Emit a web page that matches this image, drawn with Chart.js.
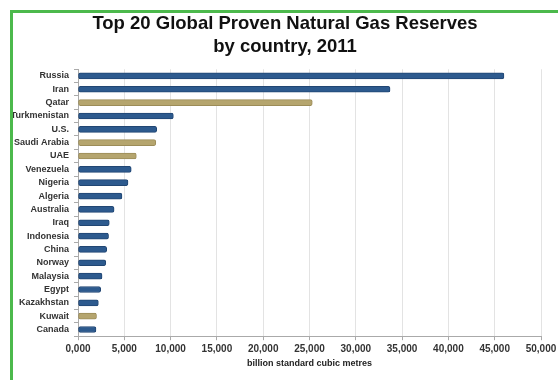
<!DOCTYPE html>
<html>
<head>
<meta charset="utf-8">
<script src="https://cdn.jsdelivr.net/npm/chart.js@4/dist/chart.umd.min.js"></script>
<style>
  html, body { margin: 0; padding: 0; background: #fff; }
  #wrap { position: relative; width: 558px; height: 380px; overflow: hidden; }
  #frame {
    position: absolute; left: 10px; top: 10px; right: 0; bottom: 0; z-index: 2;
    border-left: 3px solid #4cb94c; border-top: 3px solid #4cb94c;
    pointer-events: none;
  }
  canvas { position: absolute; left: 0; top: 0; z-index: 1; }
</style>
</head>
<body>
<div id="wrap">
  <div id="frame"></div>
  <canvas id="gasChart" width="570" height="380"></canvas>
</div>
<script>
// proven natural gas reserves, billion standard cubic metres
const countries = ['Russia', 'Iran', 'Qatar', 'Turkmenistan', 'U.S.', 'Saudi Arabia', 'UAE',
  'Venezuela', 'Nigeria', 'Algeria', 'Australia', 'Iraq', 'Indonesia', 'China', 'Norway',
  'Malaysia', 'Egypt', 'Kazakhstan', 'Kuwait', 'Canada'];
const reserves = [46000, 33700, 25300, 10300, 8500, 8400, 6300,
  5750, 5400, 4750, 3900, 3380, 3300, 3100, 3000,
  2600, 2450, 2200, 2000, 1940];
// Gulf states drawn in gold
const gulf = ['Qatar', 'Saudi Arabia', 'UAE', 'Kuwait'];
const xTicks = [0, 5000, 10000, 15000, 20000, 25000, 30000, 35000, 40000, 45000, 50000];

const blue = '#2d5a8e';
const gold = '#b5a56e';

new Chart(document.getElementById('gasChart').getContext('2d'), {
  type: 'bar',
  data: {
    labels: countries,
    datasets: [{
      data: reserves,
      backgroundColor: countries.map(c => gulf.includes(c) ? gold : blue),
      borderColor: countries.map(c => gulf.includes(c) ? '#9c8c58' : '#214673'),
      borderWidth: 1,
      borderSkipped: false,
      borderRadius: 2,
      barThickness: 6
    }]
  },
  options: {
    indexAxis: 'y',
    responsive: false,
    animation: false,
    layout: { padding: { left: 0, right: 0, top: 0, bottom: 11 } },
    plugins: {
      legend: { display: false },
      tooltip: { enabled: false },
      title: {
        display: true,
        text: ['Top 20 Global Proven Natural Gas Reserves', 'by country, 2011'],
        color: '#111',
        font: { family: 'Arial, "Liberation Sans"', size: 18.5, weight: 'bold', lineHeight: 1.25 },
        padding: { top: 12, bottom: 11 }
      }
    },
    scales: {
      x: {
        min: 0,
        max: 50000,
        afterBuildTicks: axis => { axis.ticks = xTicks.map(v => ({ value: v })); },
        grid: { color: '#e3e3e3', tickLength: 4, tickColor: '#aaa' },
        border: { color: '#aaa' },
        ticks: {
          color: '#333',
          font: { family: 'Arial, "Liberation Sans"', size: 10, weight: 'bold' },
          padding: 3,
          maxRotation: 0,
          callback: v => v === 0 ? '0,000' : v.toLocaleString('en-US')
        },
        title: {
          display: true,
          text: 'billion standard cubic metres',
          color: '#222',
          font: { family: 'Arial, "Liberation Sans"', size: 9, weight: 'bold' },
          padding: { top: 0, bottom: 0 }
        }
      },
      y: {
        afterFit: scale => { scale.width = 78; },
        grid: { drawOnChartArea: false, tickLength: 4, tickColor: '#aaa' },
        border: { color: '#aaa' },
        ticks: {
          color: '#333',
          font: { family: 'Arial, "Liberation Sans"', size: 9, weight: 'bold' },
          padding: 5,
          autoSkip: false
        }
      },
      // empty strip on the right so the plot ends short of the title box
      yGap: {
        axis: 'y',
        type: 'linear',
        position: 'right',
        grid: { display: false },
        border: { display: false },
        ticks: { display: false },
        afterFit: scale => { scale.width = 29; }
      }
    }
  }
});
</script>
</body>
</html>
